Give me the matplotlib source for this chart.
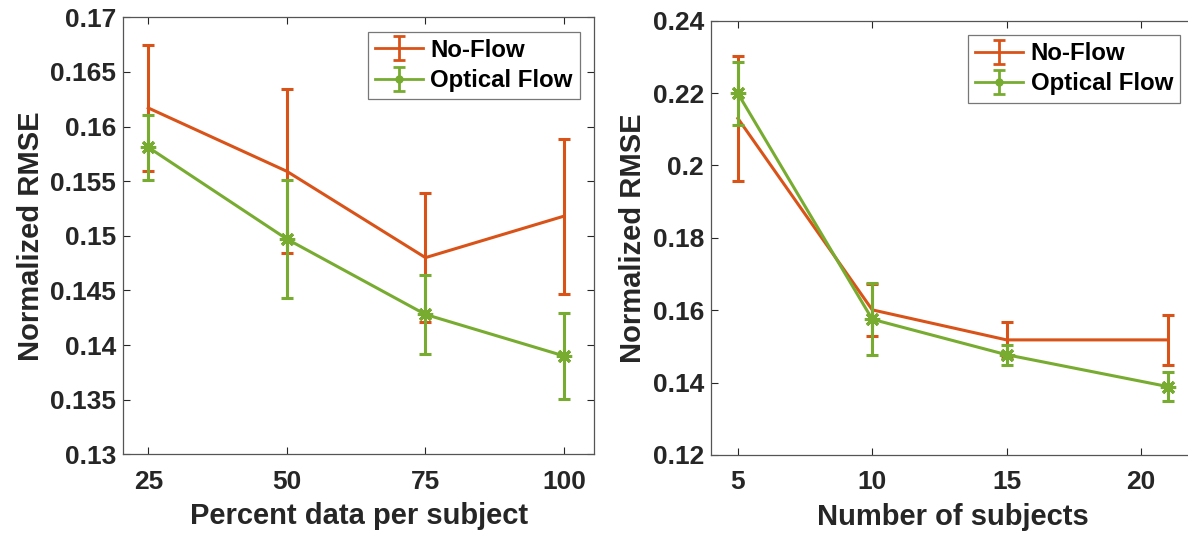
import numpy as np
import matplotlib
matplotlib.use("Agg")
import matplotlib.pyplot as plt
from matplotlib.ticker import FuncFormatter

plt.rcParams['font.family'] = ['Liberation Sans', 'DejaVu Sans']
plt.rcParams['font.weight'] = 'bold'

# left panel: percent data per subject
pct = [25, 50, 75, 100]
pct_noflow = [0.1617, 0.1559, 0.1480, 0.1518]
pct_noflow_err = [0.0058, 0.0075, 0.0059, 0.0071]
pct_flow = [0.1581, 0.1497, 0.1428, 0.1390]
pct_flow_err = [0.0030, 0.0054, 0.0036, 0.0039]

# right panel: number of subjects
subj = [5, 10, 15, 21]
subj_noflow = [0.2130, 0.1601, 0.1518, 0.1518]
subj_noflow_err = [0.0172, 0.0072, 0.0050, 0.0070]
subj_flow = [0.2199, 0.1575, 0.1477, 0.1389]
subj_flow_err = [0.0087, 0.0099, 0.0028, 0.0040]

orange = '#D95319'
green = '#77AC30'
star = (8, 2, 0)

fig = plt.figure(figsize=(11.88, 5.38), dpi=100)
ax1 = fig.add_axes([0.1038, 0.1556, 0.3962, 0.8123])
ax2 = fig.add_axes([0.5985, 0.1543, 0.4071, 0.8073])


def fmt(v, pos):
    return ('%g' % round(v, 4))


def draw(ax, x, a, ae, b, be, xlim, ylim, yticks, xticks, xlabel):
    ax.errorbar(x, a, yerr=ae, color=orange, lw=2.2, capsize=4.5, capthick=2.2,
                elinewidth=2.2, zorder=2)
    ax.errorbar(x, b, yerr=be, color=green, lw=2.2, capsize=4.5, capthick=2.2,
                elinewidth=2.2, marker=star, ms=11, mew=2.2, zorder=3)
    # proxies for legend (dot marker like the original)
    h1 = ax.errorbar([np.nan], [np.nan], yerr=[np.nan], color=orange, lw=2,
                     capsize=4.5, capthick=2, elinewidth=2)
    h2 = ax.errorbar([np.nan], [np.nan], yerr=[np.nan], color=green, lw=2,
                     capsize=4.5, capthick=2, elinewidth=2, marker='o', ms=5)
    leg = ax.legend([h1, h2], ['No-Flow', 'Optical Flow'], loc='upper right',
                    fontsize=17.3, frameon=True, fancybox=False, edgecolor='#555555',
                    borderaxespad=0.6, handlelength=2.0, handletextpad=0.3,
                    borderpad=0.3, labelspacing=0.3)
    leg.get_frame().set_linewidth(0.9)
    ax.set_xlim(*xlim)
    ax.set_ylim(*ylim)
    ax.set_xticks(xticks)
    ax.set_yticks(yticks)
    ax.yaxis.set_major_formatter(FuncFormatter(fmt))
    ax.tick_params(direction='in', length=5, width=0.8, top=True, right=True,
                   labelsize=19, colors='#262626')
    ax.tick_params(axis='x', pad=11)
    ax.tick_params(axis='y', pad=5)
    for lab in ax.get_xticklabels() + ax.get_yticklabels():
        lab.set_fontweight('bold')
    for s in ax.spines.values():
        s.set_color('#555555')
        s.set_linewidth(0.9)
    ax.set_xlabel(xlabel, fontsize=21, fontweight='bold', color='#262626', labelpad=6)
    ax.set_ylabel('Normalized RMSE', fontsize=21, fontweight='bold', color='#262626',
                  labelpad=4)


draw(ax1, pct, pct_noflow, pct_noflow_err, pct_flow, pct_flow_err,
     (20.5, 105.4), (0.13, 0.17), np.arange(0.13, 0.1701, 0.005), pct,
     'Percent data per subject')
draw(ax2, subj, subj_noflow, subj_noflow_err, subj_flow, subj_flow_err,
     (4, 22), (0.12, 0.24), np.arange(0.12, 0.2401, 0.02), [5, 10, 15, 20],
     'Number of subjects')

fig.savefig('out.png', dpi=100)
